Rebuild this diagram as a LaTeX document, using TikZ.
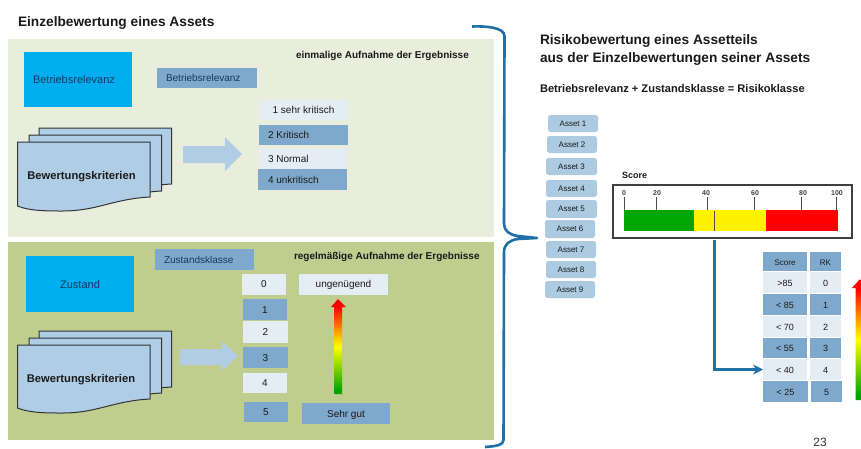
\documentclass[tikz,border=0pt]{standalone}
\usepackage{fontspec}
\setmainfont{Liberation Sans}
\usetikzlibrary{arrows.meta}
\definecolor{panelA}{HTML}{E9EDDC}
\definecolor{panelB}{HTML}{BFCD8F}
\definecolor{cyanbox}{HTML}{00AEEF}
\definecolor{midblue}{HTML}{7FA9CC}
\definecolor{pale}{HTML}{E4ECF4}
\definecolor{docblue}{HTML}{AFCDE4}
\definecolor{assetblue}{HTML}{ACCBE1}
\definecolor{arrowblue}{HTML}{B0CDE3}
\definecolor{linkblue}{HTML}{1F6FA8}
\definecolor{txt}{HTML}{1A1A1A}
\definecolor{navy}{HTML}{14385F}
\pgfdeclareverticalshading{riskgrad}{100bp}{color(0bp)=(green!65!black); color(27bp)=(green!65!black); color(50bp)=(yellow); color(71bp)=(red); color(100bp)=(red)}
\tikzset{
  x=1pt,y=-1pt,
  every node/.style={inner sep=0pt,outer sep=0pt,text=txt},
  panel/.style={fill=#1},
  cyanb/.style={fill=cyanbox,text=navy,font=\fontsize{11}{13}\selectfont,text height=8pt,text depth=0pt},
  mid/.style={fill=midblue,font=\fontsize{10}{12}\selectfont,text height=7.2pt,text depth=0pt},
  light/.style={fill=pale,font=\fontsize{10}{12}\selectfont,text height=7.2pt,text depth=0pt},
  asset/.style={fill=assetblue,rounded corners=2.5pt,font=\fontsize{8}{10}\selectfont},
  head/.style={font=\bfseries\fontsize{13.7}{15}\selectfont,anchor=west},
  sub/.style={font=\bfseries\fontsize{10}{12}\selectfont,anchor=west},
  doc/.style={draw=black!80,line width=1pt,fill=docblue},
  fat/.style={fill=arrowblue},
  link/.style={draw=linkblue,line width=2.6pt},
  tick/.style={draw=black!70,line width=.9pt},
  ticklab/.style={font=\bfseries\fontsize{7}{8}\selectfont,text=black!75},
}
\newcommand{\bx}[7]{\node[#2,minimum width={(#5-#3)*1pt},minimum height={(#6-#4)*1pt}] (#1) at ({(#3+#5)/2},{(#4+#6)/2}) {#7};}
\newcommand{\lf}[3]{\makebox[#1pt][l]{\hspace{#2pt}#3}}
\newcommand{\docshape}[3]{\draw[doc] (#1,#2) -- (#1+132.5,#2) -- (#1+132.5,#2+#3) .. controls (#1+95,#2+#3+2) and (#1+80,#2+#3+14) .. (#1+45,#2+#3+14) .. controls (#1+30,#2+#3+14) and (#1+12,#2+#3+14) .. (#1,#2+#3+9) -- cycle;}
\begin{document}
\begin{tikzpicture}
\useasboundingbox (0,0) rectangle (861,448);
\fill[white] (0,0) rectangle (861,448);
% panels
\bx{pA}{panel=panelA}{8}{39}{494}{237}{}
\bx{pB}{panel=panelB}{8}{242}{494}{440}{}
% titles
\node[head] (t1) at (18,23) {Einzelbewertung eines Assets};
\node[head] (t2) at (540,41) {Risikobewertung eines Assetteils};
\node[head] (t3) at (540,59) {aus der Einzelbewertungen seiner Assets};
\node[sub,font=\bfseries\fontsize{11.1}{12}\selectfont] (t4) at (540,89) {Betriebsrelevanz + Zustandsklasse = Risikoklasse};
\node[sub] (t5) at (296,56) {einmalige Aufnahme der Ergebnisse};
\node[sub] (t6) at (294,257) {regelmäßige Aufnahme der Ergebnisse};
% upper panel
\bx{br}{cyanb}{24}{52}{132}{107}{\lf{108}{9}{Betriebsrelevanz}}
\bx{brs}{mid}{157}{68}{257}{88}{\lf{100}{9}{\textcolor{navy}{Betriebsrelevanz}}}
\bx{r1}{light}{259}{100}{348}{120}{1 sehr kritisch}
\bx{r2}{mid}{259}{124.5}{348}{145}{\lf{89}{9}{2 Kritisch}}
\bx{r3}{light}{259}{149}{347}{169}{\lf{88}{9}{3 Normal}}
\bx{r4}{mid}{258}{169}{347}{190}{\lf{89}{10}{4 unkritisch}}
\docshape{39}{128}{56}
\docshape{29}{135}{56}
\docshape{17.5}{142}{55}
\node[font=\bfseries\fontsize{11.2}{13}\selectfont] (k1) at (81.5,177) {Bewertungskriterien};
\fill[fat] (183,146) -- (225,146) -- (225,137) -- (242,154) -- (225,171) -- (225,163) -- (183,163) -- cycle;
% lower panel
\bx{zu}{cyanb}{26}{256}{134}{312}{Zustand}
\bx{zk}{mid}{155}{249}{254}{270}{\lf{99}{9}{\textcolor{navy}{Zustandsklasse}}}
\bx{s0}{light}{242}{273.5}{286}{295}{0}
\bx{s1}{mid}{243}{299}{287}{320}{1}
\bx{s2}{light}{243}{321}{288}{343}{2}
\bx{s3}{mid}{243}{347}{288}{368}{3}
\bx{s4}{light}{243}{373}{287}{393}{4}
\bx{s5}{mid}{244}{402}{288}{422}{5}
\bx{ug}{light}{299}{273.5}{388}{295}{ungenügend}
\bx{sg}{mid}{302}{403}{390}{424}{Sehr gut}
\docshape{39}{331}{56}
\docshape{29}{338}{55}
\docshape{17.5}{345}{54}
\node[font=\bfseries\fontsize{11.2}{13}\selectfont] (k2) at (81,379.5) {Bewertungskriterien};
\fill[fat] (180,349) -- (222,349) -- (222,341) -- (238,356) -- (222,371) -- (222,365) -- (180,365) -- cycle;
\shade[shading=riskgrad] (334,394) -- (342,394) -- (342,307) -- (346,307) -- (338,299) -- (331,307) -- (334,307) -- cycle;
% brace
\coordinate (bA) at (472,26.5);
\coordinate (bT) at (537,238);
\coordinate (bB) at (485,447);
\draw[link,line join=round] (bA) .. controls (485,26) and (504,27) .. (504.5,36) -- (504,224) .. controls (504,231) and (510,235) .. (518,236) -- (bT) -- (518,239) .. controls (510,240) and (504,244) .. (504,252) -- (503.5,440) .. controls (503,445) and (498,446) .. (bB);
% assets
\bx{a1}{asset}{548}{115}{598}{132}{Asset 1}
\bx{a2}{asset}{547}{136}{597}{153}{Asset 2}
\bx{a3}{asset}{546}{158}{597}{175}{Asset 3}
\bx{a4}{asset}{546}{180}{597}{197}{Asset 4}
\bx{a5}{asset}{546}{200}{597}{218}{Asset 5}
\bx{a6}{asset}{545}{220}{595}{238}{Asset 6}
\bx{a7}{asset}{546}{241}{596}{258}{Asset 7}
\bx{a8}{asset}{546}{261}{596}{278}{Asset 8}
\bx{a9}{asset}{545}{281}{595}{298}{Asset 9}
% score
\node[font=\bfseries\fontsize{9}{11}\selectfont,anchor=west] (sc) at (622,175) {Score};
\draw[draw=black!75,line width=1.3pt,fill=white] (613,185) rectangle (852,238);
\fill[green!65!black] (624,210) rectangle (694,231);
\fill[yellow] (694,210) rectangle (766,231);
\fill[red] (766,210) rectangle (838,231);
\foreach \xp/\xl/\lab in {624/624/0,656/657/20,707/706/40,754/755/60,801.5/803/80,836/837/100}{
  \draw[tick] (\xp,197) -- (\xp,210);
  \node[ticklab] at (\xl,193) {\lab};
}
\coordinate (mk) at (714.5,240);
\draw[tick,line width=1.2pt] (714.5,211) -- (714.5,231);
% table
\bx{hs}{mid}{763}{252}{807}{271}{\fontsize{8}{10}\selectfont Score}
\bx{hr}{mid}{810}{252}{841}{271}{\fontsize{8}{10}\selectfont RK}
\bx{c0}{light}{763}{272}{807}{293}{\fontsize{9}{10}\selectfont >85}
\bx{d0}{light}{810}{272}{841}{293}{\fontsize{9}{10}\selectfont 0}
\bx{c1}{mid}{763}{294}{807}{315}{\fontsize{9}{10}\selectfont < 85}
\bx{d1}{mid}{810}{294}{841}{315}{\fontsize{9}{10}\selectfont 1}
\bx{c2}{light}{763}{316}{807}{337}{\fontsize{9}{10}\selectfont < 70}
\bx{d2}{light}{810}{316}{841}{337}{\fontsize{9}{10}\selectfont 2}
\bx{c3}{mid}{763}{338}{807}{358}{\fontsize{9}{10}\selectfont < 55}
\bx{d3}{mid}{810}{338}{841}{358}{\fontsize{9}{10}\selectfont 3}
\bx{c4}{light}{763}{359}{807}{380}{\fontsize{9}{10}\selectfont < 40}
\bx{d4}{light}{810}{359}{841}{380}{\fontsize{9}{10}\selectfont 4}
\bx{c5}{mid}{763}{381}{808}{402}{\fontsize{9}{10}\selectfont < 25}
\bx{d5}{mid}{811}{381}{842}{402}{\fontsize{9}{10}\selectfont 5}
\draw[link,-{Stealth[length=10pt,width=10pt]}] (mk) -- (mk |- c4.west) -- (c4.west);
\shade[shading=riskgrad] (855.5,400) -- (864,400) -- (864,288) -- (868,288) -- (860,279) -- (852,288) -- (855.5,288) -- cycle;
\node[font=\fontsize{12}{14}\selectfont,text=black!80] (pg) at (820,442.5) {23};
\end{tikzpicture}
\end{document}
